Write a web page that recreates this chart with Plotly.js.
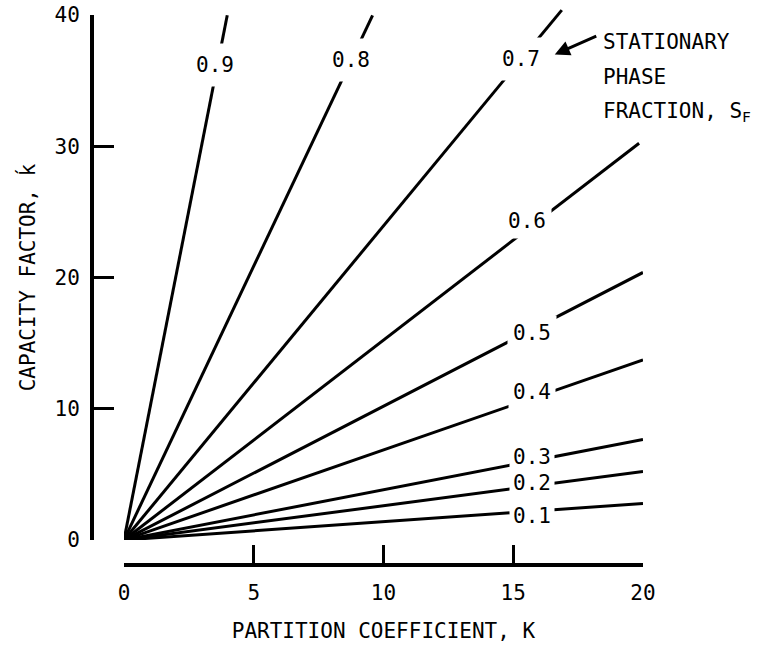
<!DOCTYPE html>
<html>
<head>
<meta charset="utf-8">
<script src="https://cdn.plot.ly/plotly-3.0.1.min.js"></script>
<style>html,body{margin:0;padding:0;background:#fff;}</style>
</head>
<body>
<div id="chart" style="width:759px;height:649px;"></div>
<script>
// Stationary phase fraction S_F for each line
const sfLabels = ['0.9', '0.8', '0.7', '0.6', '0.5', '0.4', '0.3', '0.2', '0.1'];
// Partition coefficient K at line end
const endK = [3.98, 9.58, 16.87, 19.85, 20, 20, 20, 20, 20];
// Capacity factor k' at line end
const endKp = [40.2, 40.2, 40.6, 30.4, 20.5, 13.8, 7.7, 5.25, 2.8];
// Label locations (K, k')
const labelK = [3.51, 8.73, 15.29, 15.52, 15.71, 15.71, 15.71, 15.71, 15.71];
const labelKp = [36.43, 36.81, 36.88, 24.41, 15.89, 11.33, 6.39, 4.33, 1.83];
const xTicks = [0, 5, 10, 15, 20];
const yTicks = [0, 10, 20, 30, 40];

const FONT = 'DejaVu Sans Mono';
const fs = 21;

const traces = sfLabels.map((s, i) => ({
  x: [0, endK[i]],
  y: [0, endKp[i]],
  mode: 'lines',
  line: {color: '#000', width: 3},
  hoverinfo: 'skip',
  showlegend: false,
  xaxis: 'x', yaxis: 'y'
}));
traces.push({x: [0], y: [0], mode: 'markers', marker: {opacity: 0}, xaxis: 'x', yaxis: 'y2', hoverinfo: 'skip', showlegend: false});

const pads = [9, 9, 9, 5, 5, 4, 3, 3, 3];
const annotations = sfLabels.map((s, i) => ({
  x: labelK[i], y: labelKp[i], xref: 'x', yref: 'y',
  text: s, showarrow: false, bgcolor: '#fff', borderpad: pads[i],
  font: {family: FONT, size: fs, color: '#000'},
  xanchor: 'center', yanchor: 'middle'
}));
annotations.push({
  x: 16.6, y: 37.2, xref: 'x', yref: 'y', text: '', showarrow: true,
  ax: 43, ay: -19, arrowhead: 2, arrowsize: 1, arrowwidth: 3, arrowcolor: '#000'
});
const noteLines = ['STATIONARY', 'PHASE', 'FRACTION, S<sub>F</sub>'];
const noteY = [38.17, 35.51, 32.78];
noteLines.forEach((t, i) => annotations.push({
  x: 18.38, y: noteY[i], xref: 'x', yref: 'y', text: t, showarrow: false,
  xanchor: 'left', yanchor: 'middle', align: 'left',
  font: {family: FONT, size: fs, color: '#000'}
}));

const layout = {
  width: 759, height: 649,
  margin: {l: 92, r: 116, t: 5, b: 84, pad: 0},
  paper_bgcolor: '#fff', plot_bgcolor: 'rgba(0,0,0,0)',
  font: {family: FONT, size: fs, color: '#000'},
  showlegend: false,
  xaxis: {
    domain: [0.058, 1], range: [0, 20], anchor: 'free', position: 0,
    showline: true, linewidth: 4, linecolor: '#000', mirror: false,
    ticks: 'inside', ticklen: 18, tickwidth: 3, tickcolor: '#000',
    tickvals: xTicks, ticktext: xTicks.map(String), ticklabelstandoff: 8,
    showgrid: false, zeroline: false,
    tickfont: {family: FONT, size: fs, color: '#000'},
    title: {text: 'PARTITION COEFFICIENT, K', font: {family: FONT, size: fs, color: '#000'}, standoff: 18}
  },
  yaxis: {
    domain: [0.04464, 1], range: [0, 40.99], anchor: 'x', visible: false,
    showgrid: false, zeroline: false
  },
  yaxis2: {
    domain: [0.04464, 0.98214], range: [0, 40], anchor: 'free', position: 0,
    showline: true, linewidth: 4, linecolor: '#000',
    ticks: 'inside', ticklen: 20, tickwidth: 3, tickcolor: '#000',
    tickvals: yTicks, ticktext: yTicks.map(String), ticklabelstandoff: 6,
    showgrid: false, zeroline: false,
    tickfont: {family: FONT, size: fs, color: '#000'},
    title: {text: 'CAPACITY FACTOR, k\u0301', font: {family: FONT, size: fs, color: '#000'}, standoff: 12}
  },
  annotations: annotations
};

Plotly.newPlot('chart', traces, layout, {staticPlot: true, displayModeBar: false});
</script>
</body>
</html>
